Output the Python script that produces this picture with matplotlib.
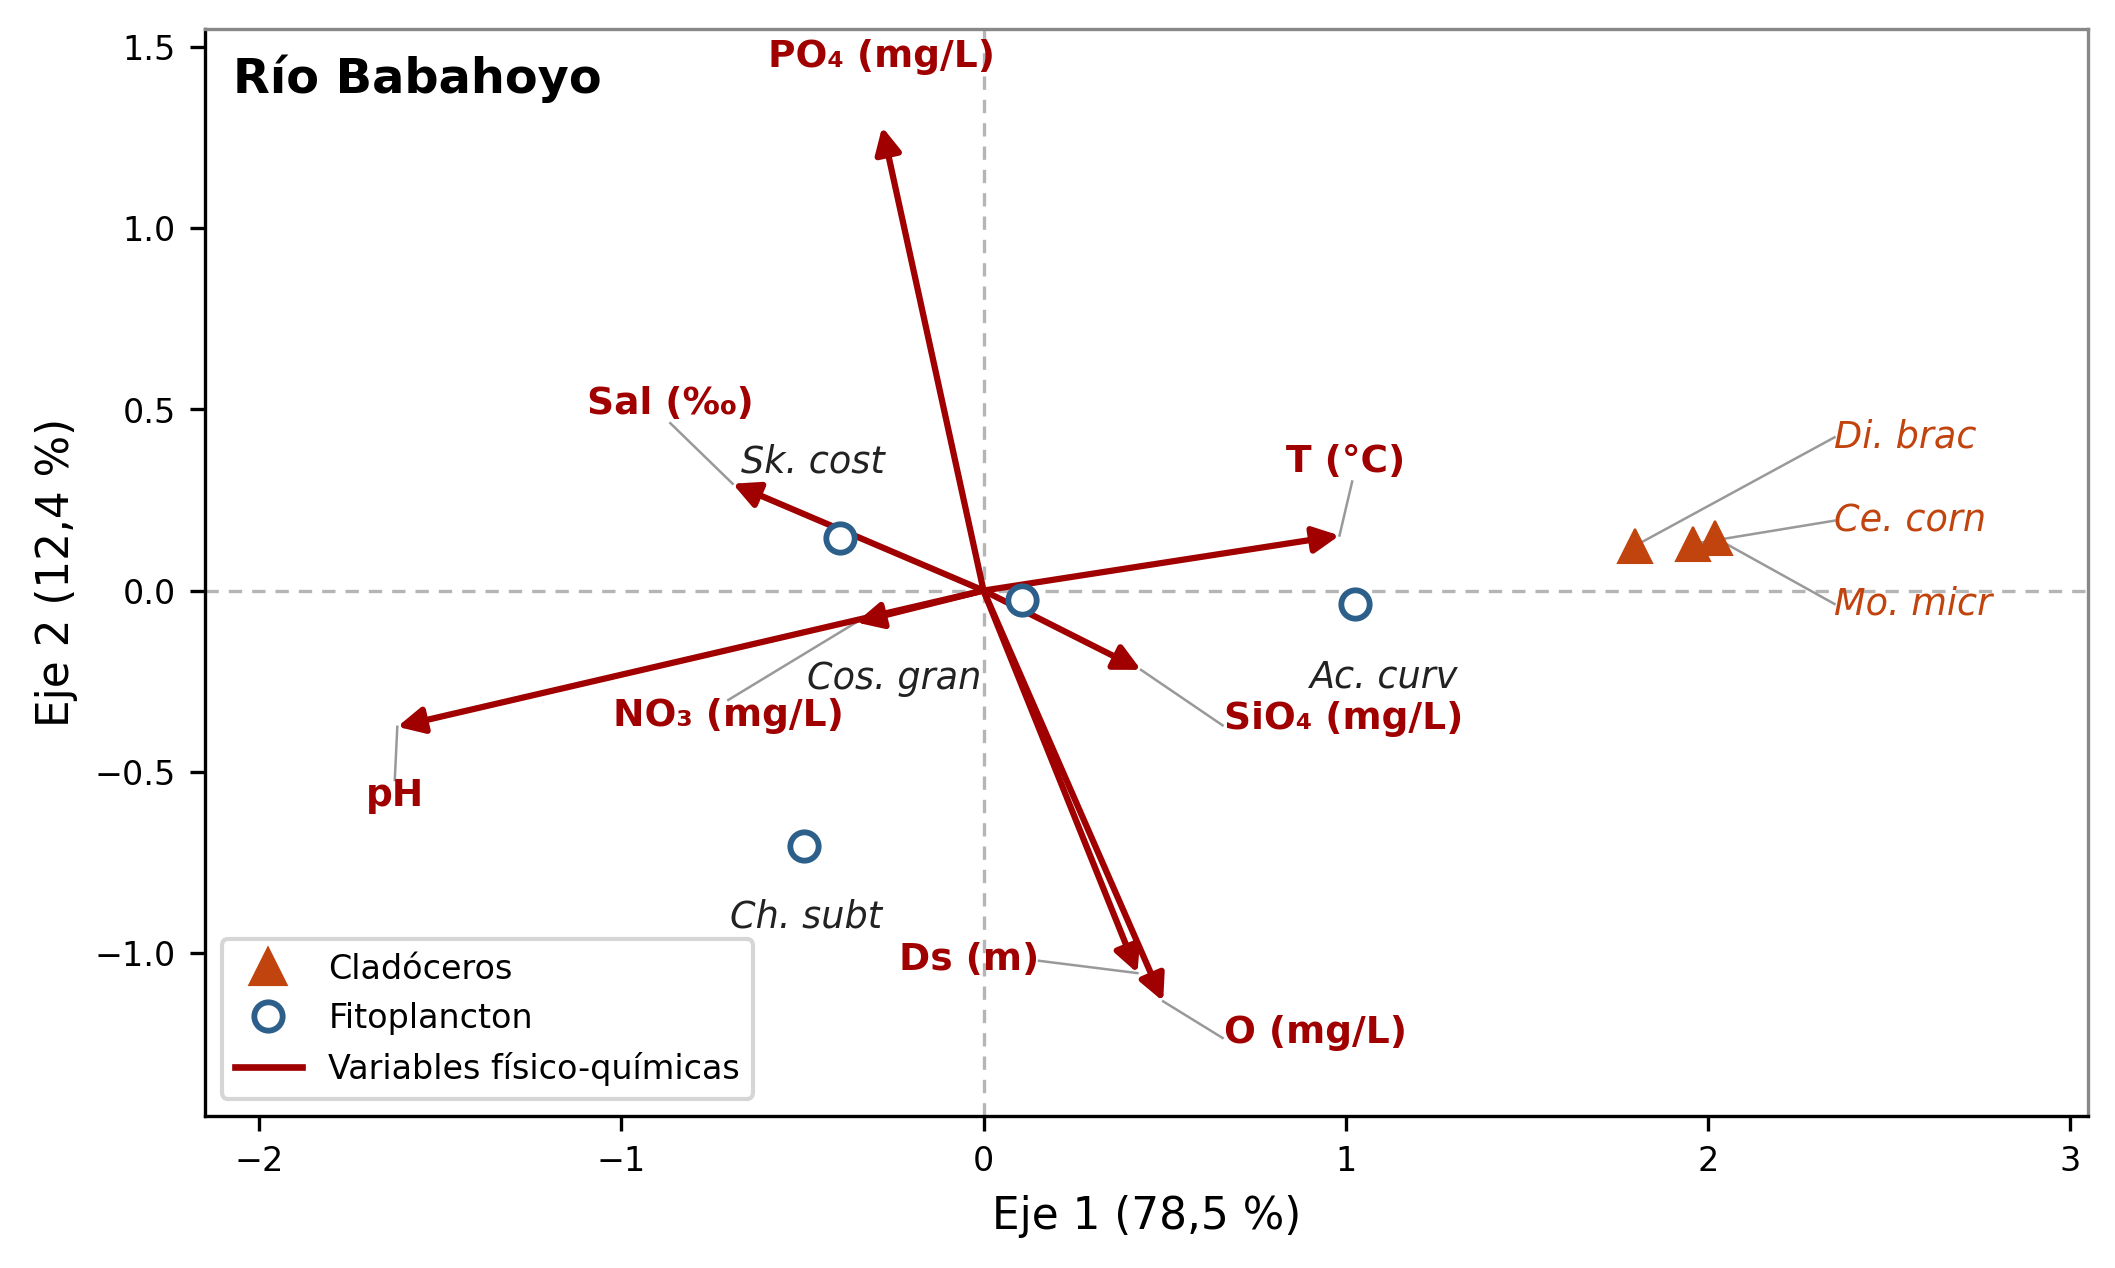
import matplotlib
matplotlib.use("Agg")
from matplotlib import pyplot as plt
from matplotlib.lines import Line2D

# Cladóceros (triángulos)
clad_names = ["Di. brac", "Ce. corn", "Mo. micr"]
clad_x = [1.80, 1.96, 2.02]
clad_y = [0.124, 0.129, 0.146]

# Fitoplancton (círculos)
fito_names = ["Sk. cost", "Cos. gran", "Ac. curv", "Ch. subt"]
fito_x = [-0.397, 0.106, 1.026, -0.495]
fito_y = [0.145, -0.025, -0.037, -0.705]

# Variables físico-químicas (flechas)
env_names = ["PO₄ (mg/L)", "Sal (‰)", "T (°C)", "NO₃ (mg/L)", "pH",
             "SiO₄ (mg/L)", "Ds (m)", "O (mg/L)"]
env_x = [-0.280, -0.693, 0.983, -0.352, -1.619, 0.435, 0.425, 0.496]
env_y = [1.280, 0.295, 0.152, -0.088, -0.376, -0.219, -1.056, -1.134]

RED = "#a00000"
ORANGE = "#c1440e"
BLUE = "#2c5f8a"
GREY = "#999999"

# where the labels sit, and where their leader lines start
clad_lab = [(2.35, 0.423), (2.35, 0.193), (2.35, -0.037)]
fito_lab = [(-0.47, 0.354), (-0.247, -0.243), (1.105, -0.238), (-0.49, -0.90)]
env_lab = [(-0.283, 1.474, "center"), (-0.866, 0.516, "center"),
           (1.00, 0.354, "center"), (-0.705, -0.346, "center"),
           (-1.624, -0.567, "center"), (0.663, -0.355, "left"),
           (0.153, -1.019, "right"), (0.663, -1.22, "left")]
env_lead = [None, (-0.865, 0.462), (1.018, 0.301), (-0.705, -0.302),
            (-1.626, -0.523), (0.66, -0.372), (0.153, -1.022),
            (0.66, -1.235)]

fig = plt.figure(figsize=(7.053, 4.227), dpi=300)
ax = fig.add_axes([0.0969, 0.120, 0.9868 - 0.0969, 0.977 - 0.120])

ax.axhline(0, color="#b5b5b5", lw=0.8, ls=(0, (4, 3)), zorder=0)
ax.axvline(0, color="#b5b5b5", lw=0.8, ls=(0, (4, 3)), zorder=0)

# arrows
for x, y in zip(env_x, env_y):
    ax.annotate("", xy=(x, y), xytext=(0, 0),
                arrowprops=dict(arrowstyle="-|>", color=RED, lw=1.5,
                                mutation_scale=13, shrinkA=0, shrinkB=0),
                zorder=3)

for name, (lx, ly, ha), lead, x, y in zip(env_names, env_lab, env_lead,
                                          env_x, env_y):
    if lead is not None:
        ax.plot([lead[0], x], [lead[1], y], color=GREY, lw=0.6, zorder=2)
    ax.text(lx, ly, name, color=RED, fontsize=9, fontweight="bold",
            ha=ha, va="center", zorder=5)

# species
ax.plot(fito_x, fito_y, "o", ms=6.8, mfc="white", mec=BLUE, mew=1.4,
        zorder=4)
for name, (lx, ly) in zip(fito_names, fito_lab):
    ax.text(lx, ly, name, color="#222222", fontsize=8.8, style="italic",
            ha="center", va="center", zorder=5)

ax.plot(clad_x, clad_y, "^", ms=8.3, color=ORANGE, mec=ORANGE, mew=0.5,
        zorder=4)
for name, (lx, ly), x, y in zip(clad_names, clad_lab, clad_x, clad_y):
    ax.plot([x, lx], [y, ly], color=GREY, lw=0.6, zorder=2)
    ax.text(lx, ly, name, color=ORANGE, fontsize=8.8, style="italic",
            ha="left", va="center", zorder=5)

ax.set_xlim(-2.15, 3.05)
ax.set_ylim(-1.45, 1.55)
ax.set_xticks([-2, -1, 0, 1, 2, 3])
ax.set_yticks([-1.0, -0.5, 0.0, 0.5, 1.0, 1.5])
ax.set_xticklabels(["−2", "−1", "0", "1", "2", "3"])
ax.tick_params(labelsize=8)
ax.set_xlabel("Eje 1 (78,5 %)", fontsize=10.5)
ax.set_ylabel("Eje 2 (12,4 %)", fontsize=10.5)

for side in ("top", "right"):
    ax.spines[side].set_color("#888888")

ax.text(0.015, 0.977, "Río Babahoyo", transform=ax.transAxes,
        fontsize=11.5, fontweight="bold", ha="left", va="top")

handles = [
    Line2D([], [], marker="^", ls="none", ms=8, color=ORANGE),
    Line2D([], [], marker="o", ls="none", ms=6.8, mfc="white", mec=BLUE,
           mew=1.4),
    Line2D([], [], color=RED, lw=1.6),
]
ax.legend(handles, ["Cladóceros", "Fitoplancton",
                    "Variables físico-químicas"],
          loc="lower left", fontsize=8)

fig.savefig("out.png", dpi=300)
